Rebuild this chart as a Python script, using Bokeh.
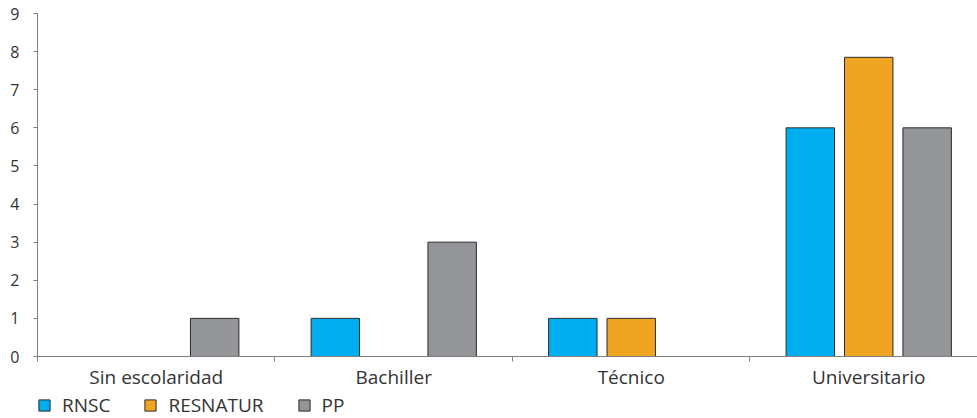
from bokeh.plotting import figure
from bokeh.models import ColumnDataSource, FixedTicker, Range1d, Legend, LegendItem
from bokeh.layouts import column
from bokeh.embed import file_html
from bokeh.resources import INLINE

categories = ["Sin escolaridad", "Bachiller", "Técnico", "Universitario"]
series_names = ["RNSC", "RESNATUR", "PP"]
rnsc = [0, 1, 1, 6]
resnatur = [0, 0, 1, 7.85]
pp = [1, 3, 0, 6]
colors = ["#00AEEF", "#EFA522", "#939598"]
y_ticks = [0, 1, 2, 3, 4, 5, 6, 7, 8, 9]

FONT = "Open Sans"
TXT = "#333333"
AX = "#7f7f7f"

# the last category runs a little past the right edge of the window
x_end = len(categories) - 0.042

p = figure(width=977, height=392, output_backend="svg", toolbar_location=None,
           x_range=Range1d(0, x_end), y_range=Range1d(0, 9),
           min_border_left=37, min_border_right=0, min_border_top=13, min_border_bottom=36)
p.outline_line_color = None
p.grid.visible = False

offsets = [-0.246, 0.0, 0.246]
bar_w = 0.204
series = [rnsc, resnatur, pp]
sources = []
for name, vals, off, col in zip(series_names, series, offsets, colors):
    xs = [i + 0.5 + off for i, v in enumerate(vals) if v > 0]
    ys = [v for v in vals if v > 0]
    src = ColumnDataSource(dict(x=xs, top=ys))
    sources.append(src)
    p.vbar(x="x", top="top", bottom=0, width=bar_w, source=src,
           fill_color=col, line_color="#2b2b2b", line_width=1)

# x axis: labels at centers, tick marks at category boundaries
p.xaxis.ticker = FixedTicker(ticks=[i + 0.5 for i in range(len(categories))],
                             minor_ticks=list(range(len(categories) + 1)))
p.xaxis.major_label_overrides = {i + 0.5: c for i, c in enumerate(categories)}
p.xaxis.major_tick_out = 0
p.xaxis.major_tick_in = 0
p.xaxis.minor_tick_out = 5
p.xaxis.minor_tick_in = 0
p.xaxis.axis_line_color = AX
p.xaxis.minor_tick_line_color = AX
p.xaxis.major_label_text_font = FONT
p.xaxis.major_label_text_font_size = "19px"
p.xaxis.major_label_text_color = TXT
p.xaxis.major_label_standoff = 2

# y axis
p.yaxis.ticker = FixedTicker(ticks=y_ticks, minor_ticks=[])
p.yaxis.major_tick_out = 4
p.yaxis.major_tick_in = 0
p.yaxis.axis_line_color = AX
p.yaxis.major_tick_line_color = AX
p.yaxis.major_label_text_font = FONT
p.yaxis.major_label_text_font_size = "16px"
p.yaxis.major_label_text_color = TXT
p.yaxis.major_label_standoff = 14

# legend strip below the chart (its bars lie far outside its view; only the legend shows)
lg = figure(width=977, height=26, output_backend="svg", toolbar_location=None,
            x_range=Range1d(0, x_end), y_range=Range1d(1000, 1001),
            x_axis_location=None, y_axis_location=None,
            min_border_left=37, min_border_right=0, min_border_top=0, min_border_bottom=0)
lg.outline_line_color = None
lg.grid.visible = False
items = []
for name, src, col in zip(series_names, sources, colors):
    r = lg.vbar(x="x", top="top", bottom=0, width=bar_w, source=src,
                fill_color=col, line_color="#2b2b2b", line_width=1)
    items.append(LegendItem(label=name, renderers=[r]))
legend = Legend(items=items, orientation="horizontal", location=(0, 0),
                glyph_width=14, glyph_height=14, label_standoff=11, spacing=33,
                padding=0, margin=0, border_line_color=None, background_fill_alpha=0,
                label_text_font=FONT, label_text_font_size="19px",
                label_text_color=TXT, label_height=14)
lg.add_layout(legend, "center")

layout = column(p, lg, spacing=0)
open("out.html", "w").write(file_html(layout, INLINE))
